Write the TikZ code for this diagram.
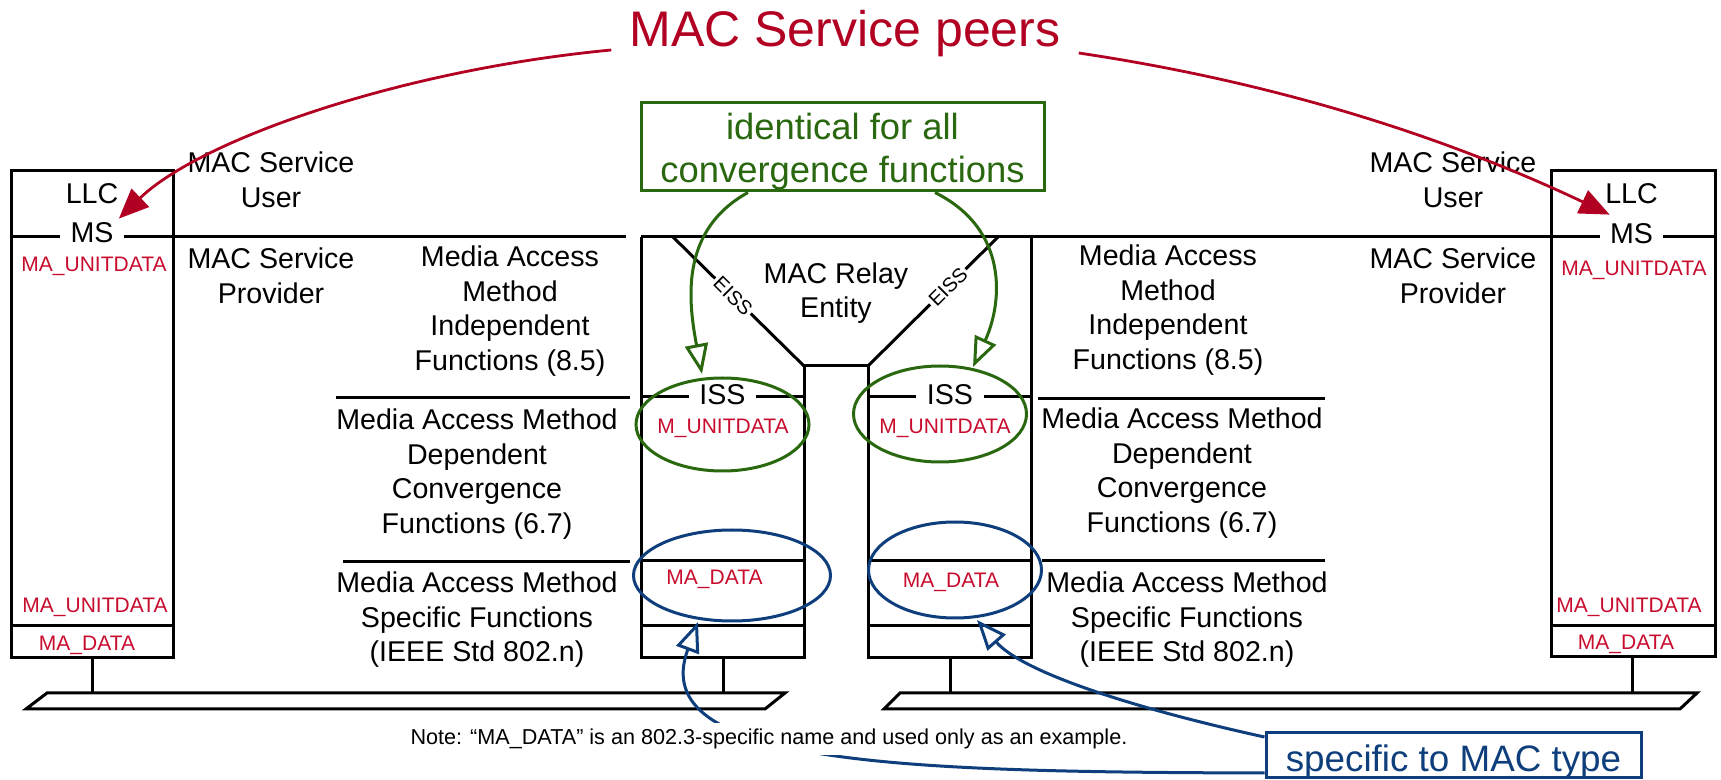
\documentclass[tikz,border=0pt]{standalone}
\usepackage{fontspec}
\setmainfont{Liberation Sans}
\usetikzlibrary{arrows.meta}
\definecolor{peerred}{RGB}{178,0,34}
\definecolor{primred}{RGB}{200,12,46}
\definecolor{idgreen}{RGB}{42,104,16}
\definecolor{specblue}{RGB}{14,62,124}
\begin{document}
\begin{tikzpicture}[x=0.5pt,y=-0.5pt,
  boxline/.style={line width=1.5pt},
  lbl/.style={align=center,font=\fontsize{14.3}{17.3}\selectfont,inner sep=0pt},
  one/.style={font=\fontsize{14.3}{17.3}\selectfont,inner sep=0pt,anchor=base},
  prim/.style={text=primred,font=\fontsize{10.5}{12}\selectfont,inner sep=0pt,anchor=base},
  iface/.style={fill=white,font=\fontsize{14.3}{17.3}\selectfont,inner xsep=5.25pt,inner ysep=1pt,anchor=base},
  eisslbl/.style={fill=white,font=\fontsize{10}{12}\selectfont,inner xsep=1pt,inner ysep=0.5pt},
  ovalg/.style={draw=idgreen,line width=1.5pt},
  ovalb/.style={draw=specblue,line width=1.5pt},
  peerarrow/.style={draw=peerred,line width=1.4pt,-{Triangle[length=15pt,width=12.5pt]}},
  greenarrow/.style={draw=idgreen,line width=1.5pt,-{Triangle[open,length=15pt,width=11.5pt]}},
  bluearrow/.style={draw=specblue,line width=1.5pt,-{Triangle[open,length=15pt,width=12pt]}}]
\useasboundingbox (0,0) rectangle (1721,780);

% ---------- structure ----------
% left end station
\draw[boxline] (11,171) rectangle (173,658);
\draw[boxline] (11,237) -- (626,237);
\draw[boxline] (11,626) -- (173,626);
\draw[boxline] (92,658) -- (92,693);
% right end station
\draw[boxline] (1551,171) rectangle (1715,657);
\draw[boxline] (641,237) -- (1715,237);
\draw[boxline] (1551,626) -- (1715,626);
\draw[boxline] (1632,657) -- (1632,693);
% bridge
\draw[boxline] (641,237) -- (641,658) -- (804,658) -- (804,366) -- (868,366) -- (868,658) -- (1031,658) -- (1031,237);
\draw[boxline] (673,237) -- (804,366);
\draw[boxline] (868,366) -- (998,237);
\draw[boxline] (641,397) -- (804,397);
\draw[boxline] (868,397) -- (1031,397);
\draw[boxline] (641,561) -- (804,561);
\draw[boxline] (868,561) -- (1031,561);
\draw[boxline] (641,626) -- (804,626);
\draw[boxline] (868,626) -- (1031,626);
\draw[boxline] (723,658) -- (723,693);
\draw[boxline] (950,658) -- (950,693);
% layer separators
\draw[boxline] (336,398) -- (630,398);
\draw[boxline] (343,562) -- (630,562);
\draw[boxline] (1038,399) -- (1325,399);
\draw[boxline] (1042,561) -- (1325,561);
% LANs
\draw[boxline] (47,693) -- (785,693) -- (765,709) -- (26,709) -- cycle;
\draw[boxline] (900,693) -- (1697,693) -- (1680,709) -- (884,709) -- cycle;

% ---------- texts ----------
\node[one] (lllc) at (92,204) {LLC};
\node[one] (rllc) at (1631.5,204) {LLC};
\node[iface] (lms) at (92,243) {MS};
\node[iface] (rms) at (1631.5,244) {MS};
\node[prim] (lmau1) at (94,272) {MA\_UNITDATA};
\node[prim] (rmau1) at (1634,276) {MA\_UNITDATA};
\node[prim] (lmau2) at (95,613) {MA\_UNITDATA};
\node[prim] (rmau2) at (1629,613) {MA\_UNITDATA};
\node[prim] (lmad) at (87,651) {MA\_DATA};
\node[prim] (rmad) at (1626,650) {MA\_DATA};
\node[iface] (liss) at (722.5,405) {ISS};
\node[iface] (riss) at (950,405) {ISS};
\node[prim] (lmu) at (723,434) {M\_UNITDATA};
\node[prim] (rmu) at (945,434) {M\_UNITDATA};
\node[prim] (lbmad) at (714.5,585) {MA\_DATA};
\node[prim] (rbmad) at (951,588) {MA\_DATA};

\node[lbl] (luser) at (271,180) {MAC Service\\User};
\node[lbl] (ruser) at (1453,180) {MAC Service\\User};
\node[lbl] (lprov) at (271,276) {MAC Service\\Provider};
\node[lbl] (rprov) at (1453,276) {MAC Service\\Provider};
\node[lbl] (lind) at (510,311) {Media Access\\Method\\Independent\\Functions (8.5)};
\node[lbl] (rind) at (1168,310) {Media Access\\Method\\Independent\\Functions (8.5)};
\node[lbl] (ldep) at (477,474) {Media Access Method\\Dependent\\Convergence\\Functions (6.7)};
\node[lbl] (rdep) at (1182,473) {Media Access Method\\Dependent\\Convergence\\Functions (6.7)};
\node[lbl] (lspecf) at (477,620) {Media Access Method\\Specific Functions\\(IEEE Std 802.n)};
\node[lbl] (rspecf) at (1187,620) {Media Access Method\\Specific Functions\\(IEEE Std 802.n)};
\node[lbl] (relay) at (836,293) {MAC Relay\\Entity};
\node[eisslbl,rotate=-45] (leiss) at (733,296) {EISS};
\node[eisslbl,rotate=45] (reiss) at (948,287) {EISS};

% ---------- ovals ----------
\draw[ovalg] (722.5,424.5) ellipse [x radius=43.25pt, y radius=23.25pt];
\draw[ovalg] (940,414) ellipse [x radius=43.25pt, y radius=24pt];
\draw[ovalb] (732,575.5) ellipse [x radius=49.25pt, y radius=22.75pt];
\draw[ovalb] (955,570) ellipse [x radius=43.25pt, y radius=24pt];

% ---------- callouts ----------
\node[anchor=base,text=peerred,font=\fontsize{25}{30}\selectfont,inner sep=0pt] (title) at (845,47) {MAC Service peers};
\node[draw=idgreen,line width=1.5pt,minimum width=201.5pt,minimum height=44pt,inner sep=0pt] (ident) at (842.5,147) {};
\node[text=idgreen,align=center,font=\fontsize{18.2}{21.5}\selectfont,inner sep=0pt] (identtxt) at (842.5,152)
      {identical for all\\convergence functions};
\node[draw=specblue,line width=1.5pt,text=specblue,font=\fontsize{18.4}{22}\selectfont,
      minimum width=187.5pt,text height=19pt,text depth=3.5pt,inner sep=0pt] (spec) at (1453.5,755.5)
      {specific to MAC type};

\coordinate (gtipL) at (702,374);
\coordinate (gtipR) at (973,367);
\coordinate (btipL) at (698,622);
\coordinate (btipR) at (977,620);

\draw[peerarrow] ([shift={(-9pt,-1.5pt)}]title.base west) .. controls (400,70) and (200,140) .. ([shift={(-2.75pt,1pt)}]lms.north east);
\draw[peerarrow] ([shift={(9pt,-3pt)}]title.base east) .. controls (1260,80) and (1431,130) .. ([shift={(5.25pt,3.5pt)}]rms.north west);

\draw[greenarrow] ([xshift=-47.25pt]ident.south) .. controls (680,230) and (688,300) .. (gtipL);
\draw[greenarrow] ([xshift=46.25pt]ident.south) .. controls (1010,230) and (1002,304) .. (gtipR);

\draw[bluearrow] ([yshift=-8.75pt]spec.west) .. controls (900,772) and (645,765) .. (btipL);
\draw[bluearrow] ([yshift=9.25pt]spec.west) .. controls (1150,712) and (1025,675) .. (btipR);

\node[fill=white,font=\fontsize{10.8}{13}\selectfont,inner xsep=2pt,inner ysep=3pt,anchor=base] (note) at (769,745)
  {Note: “MA\_DATA” is an 802.3-specific name and used only as an example.};
\end{tikzpicture}
\end{document}
